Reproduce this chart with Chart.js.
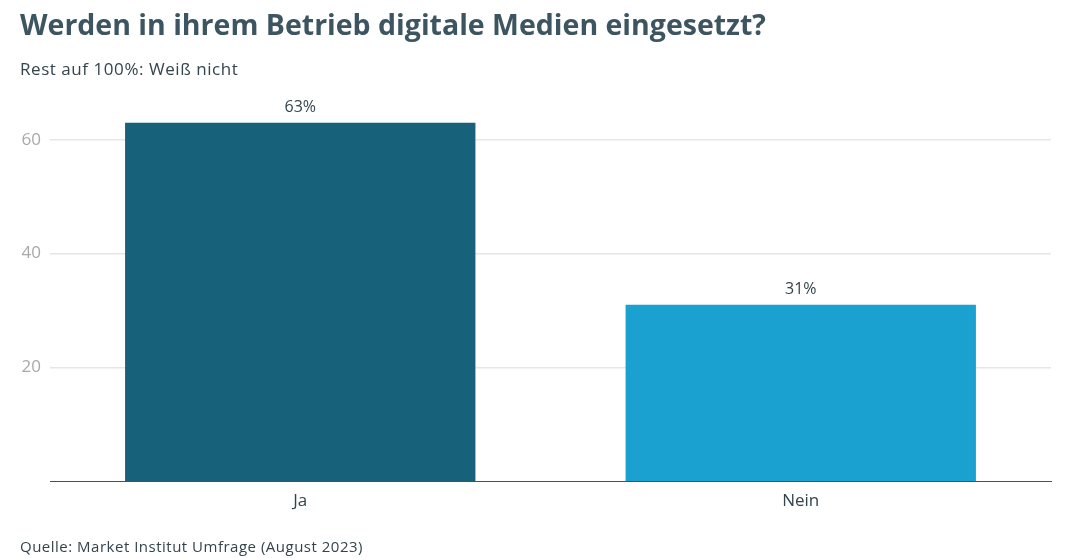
<!DOCTYPE html>
<html>
<head>
<meta charset="utf-8">
<script src="https://cdn.jsdelivr.net/npm/chart.js@4"></script>
<style>
  html, body { margin: 0; padding: 0; background: #ffffff; width: 1067px; height: 558px; overflow: hidden; }
  #wrap { position: relative; width: 1067px; height: 558px; }
  canvas { position: absolute; left: 0; top: 0; }
  .t { position: absolute; left: 20px; white-space: nowrap; color: #3d5561; font-family: "Open Sans", sans-serif; }
  #title { top: 5px; font-size: 28.5px; font-weight: 700; }
  #sub { top: 57px; font-size: 17px; letter-spacing: 0.55px; color: #34444c; }
  #src { top: 536px; font-size: 15px; letter-spacing: 0.5px; color: #34444c; }
</style>
</head>
<body>
<div id="wrap">
  <canvas id="c" width="1067" height="558"></canvas>
  <div class="t" id="title">Werden in ihrem Betrieb digitale Medien eingesetzt?</div>
  <div class="t" id="sub">Rest auf 100%: Weiß nicht</div>
  <div class="t" id="src">Quelle: Market Institut Umfrage (August 2023)</div>
</div>
<script>
const categories = ["Ja", "Nein"];
const values = [63, 31];
const barColors = ["#17617a", "#1ba1cf"];
const yTicks = [20, 40, 60];

const FONT = '"Open Sans", sans-serif';

const dataLabels = {
  id: 'dataLabels',
  afterDatasetsDraw(chart) {
    const ctx = chart.ctx;
    const meta = chart.getDatasetMeta(0);
    ctx.save();
    ctx.font = '16px ' + FONT;
    ctx.fillStyle = '#34444c';
    ctx.textAlign = 'center';
    ctx.textBaseline = 'bottom';
    meta.data.forEach((bar, i) => {
      ctx.fillText(values[i] + '%', bar.x, bar.y - 7);
    });
    ctx.restore();
  }
};

new Chart(document.getElementById('c'), {
  type: 'bar',
  data: {
    labels: categories,
    datasets: [{
      data: values,
      backgroundColor: barColors,
      borderWidth: 0,
      categoryPercentage: 1.0,
      barPercentage: 0.7
    }]
  },
  options: {
    responsive: false,
    devicePixelRatio: 1,
    animation: false,
    layout: { padding: { left: 0, right: 16, top: 83, bottom: 0 } },
    plugins: { legend: { display: false }, tooltip: { enabled: false } },
    scales: {
      x: {
        grid: { display: false, drawTicks: false },
        border: { display: true, color: '#3d5561', width: 1 },
        ticks: { color: '#34444c', font: { family: FONT, size: 17 }, padding: 10 },
        afterFit(scale) { scale.height = 77; }
      },
      y: {
        min: 0,
        max: 70,
        afterBuildTicks(scale) { scale.ticks = yTicks.map(v => ({ value: v })); },
        grid: { color: '#e6e6e6', drawTicks: false, lineWidth: 1.5 },
        border: { display: false },
        ticks: { color: '#a9a9a9', font: { family: FONT, size: 17 }, padding: 9 },
        afterFit(scale) { scale.width = 50; }
      }
    }
  },
  plugins: [dataLabels]
});
</script>
</body>
</html>
